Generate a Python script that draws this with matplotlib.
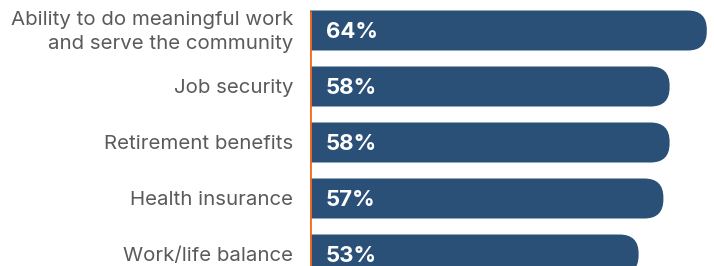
import matplotlib.pyplot as plt
from matplotlib.patches import FancyBboxPatch

# Data
labels = ['Ability to do meaningful work\nand serve the community', 'Job security',
          'Retirement benefits', 'Health insurance', 'Work/life balance']
values = [64, 58, 58, 57, 53]

bar_color = '#2a5078'
line_color = '#f26b21'
text_color = '#5a5a5a'

fig = plt.figure(figsize=(7.14, 2.66), dpi=100)
# axes starts at the orange line, 6.2 px per percent, 56 px per row
ax = fig.add_axes([310 / 714, 0, 404 / 714, 1])
ax.set_xlim(0, 404 / 6.2)
ax.set_ylim((266 - 30.5) / 56, -30.5 / 56)
ax.axis('off')

bar_h = 40 / 56
radius = 19 / 6.2
aspect = 6.2 / 56

for i, (lab, v) in enumerate(zip(labels, values)):
    # start left of zero so the left rounding is clipped away
    box = FancyBboxPatch((-5, i - bar_h / 2), v + 5, bar_h,
                         boxstyle=f'round,pad=0,rounding_size={radius}',
                         mutation_aspect=aspect, fc=bar_color, ec='none')
    ax.add_patch(box)
    ax.text(2.6, i + 0.03, f'{v}%', color='white', fontsize=16, fontweight='bold',
            family='Inter', va='center', ha='left')
    ax.text(-17 / 6.2, i + 0.03, lab, color=text_color, fontsize=14.7, family='Inter',
            va='center', ha='right', multialignment='right', linespacing=1.4,
            clip_on=False)

ax.plot([0, 0], [-bar_h / 2, 10], color=line_color, lw=2, solid_capstyle='butt')

fig.savefig('out.png', dpi=100)
